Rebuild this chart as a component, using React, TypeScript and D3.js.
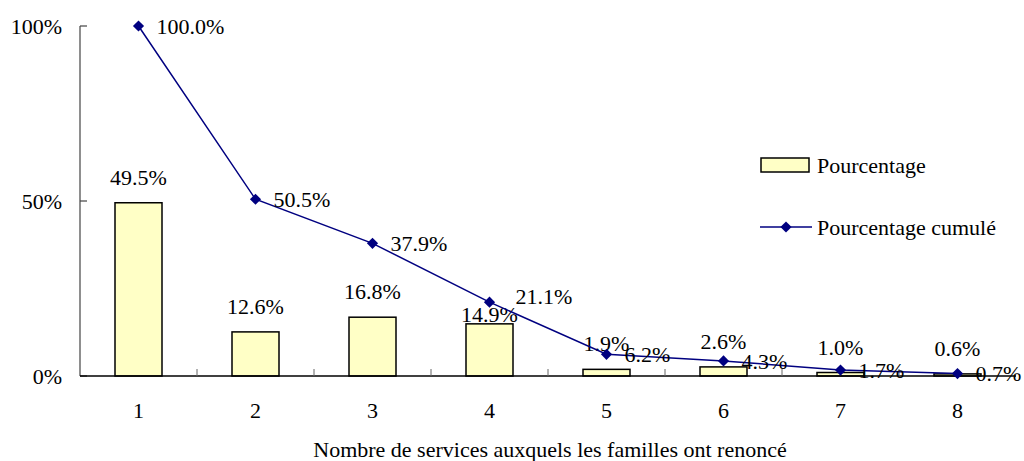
import { useRef, useEffect } from 'react';
import * as d3 from 'd3';

const categories = ['1', '2', '3', '4', '5', '6', '7', '8'];
const pourcentage = [49.5, 12.6, 16.8, 14.9, 1.9, 2.6, 1.0, 0.6];
const cumule = [100.0, 50.5, 37.9, 21.1, 6.2, 4.3, 1.7, 0.7];
const yTicks = [0, 50, 100];

export default function App() {
  const svgRef = useRef<SVGSVGElement>(null);

  useEffect(() => {
    if (!svgRef.current) return;
    const svg = d3.select(svgRef.current);
    svg.selectAll('*').remove();

    const font = '"Liberation Serif", "Times New Roman", serif';
    const fs = 22;
    const left = 80;
    const right = 1016;
    const top = 26;
    const bottom = 376;

    const x = d3.scaleBand<string>().domain(categories).range([left, right]).padding(0);
    const y = d3.scaleLinear().domain([0, 100]).range([bottom, top]);
    const barW = 47;
    const cx = (c: string) => (x(c) ?? 0) + x.bandwidth() / 2;

    // Y axis
    svg.append('line')
      .attr('x1', left).attr('x2', left).attr('y1', top).attr('y2', bottom)
      .attr('stroke', '#444').attr('stroke-width', 1.2);
    yTicks.forEach((t) => {
      svg.append('line')
        .attr('x1', left).attr('x2', left + 7).attr('y1', y(t)).attr('y2', y(t))
        .attr('stroke', '#444').attr('stroke-width', 1.2);
      svg.append('text')
        .attr('x', 62).attr('y', y(t)).attr('dy', '0.35em')
        .attr('text-anchor', 'end')
        .attr('font-family', font).attr('font-size', fs)
        .text(`${t}%`);
    });

    // Bars
    svg.selectAll('rect.bar')
      .data(pourcentage)
      .enter().append('rect')
      .attr('class', 'bar')
      .attr('x', (_, i) => cx(categories[i]) - barW / 2)
      .attr('y', (d) => y(d))
      .attr('width', barW)
      .attr('height', (d) => bottom - y(d))
      .attr('fill', '#FFFFC6')
      .attr('stroke', '#000')
      .attr('stroke-width', 1.5);

    // X axis
    svg.append('line')
      .attr('x1', left).attr('x2', right).attr('y1', bottom).attr('y2', bottom)
      .attr('stroke', '#000').attr('stroke-width', 1.5);
    categories.forEach((c, i) => {
      if (i > 0) {
        svg.append('line')
          .attr('x1', x(c)!).attr('x2', x(c)!).attr('y1', bottom).attr('y2', bottom - 7)
          .attr('stroke', '#666').attr('stroke-width', 1);
      }
      svg.append('text')
        .attr('x', cx(c)).attr('y', 410).attr('dy', '0.35em')
        .attr('text-anchor', 'middle')
        .attr('font-family', font).attr('font-size', fs)
        .text(c);
    });

    svg.append('text')
      .attr('x', 550).attr('y', 449).attr('dy', '0.35em')
      .attr('text-anchor', 'middle')
      .attr('font-family', font).attr('font-size', fs)
      .text('Nombre de services auxquels les familles ont renoncé');

    // Bar labels (the 4th one sits closer to its bar, as in the original)
    pourcentage.forEach((v, i) => {
      const gap = i === 3 ? 2 : 18;
      svg.append('text')
        .attr('x', cx(categories[i])).attr('y', y(v) - gap)
        .attr('text-anchor', 'middle')
        .attr('font-family', font).attr('font-size', fs)
        .text(`${v.toFixed(1)}%`);
    });

    // Cumulative line
    const line = d3.line<number>()
      .x((_, i) => cx(categories[i]))
      .y((d) => y(d));
    svg.append('path')
      .datum(cumule)
      .attr('d', line)
      .attr('fill', 'none')
      .attr('stroke', '#000080')
      .attr('stroke-width', 1.5);

    const diamond = d3.symbol().type(d3.symbolDiamond2).size(80);
    cumule.forEach((v, i) => {
      svg.append('path')
        .attr('d', diamond()!)
        .attr('transform', `translate(${cx(categories[i])},${y(v)})`)
        .attr('fill', '#000080');
      const nudgeX = i === 3 ? 8 : 0;
      const nudgeY = i === 3 ? -6 : 0;
      svg.append('text')
        .attr('x', cx(categories[i]) + 18 + nudgeX).attr('y', y(v) + nudgeY).attr('dy', '0.35em')
        .attr('font-family', font).attr('font-size', fs)
        .text(`${v.toFixed(1)}%`);
    });

    // Legend
    svg.append('rect')
      .attr('x', 761).attr('y', 158).attr('width', 48).attr('height', 14)
      .attr('fill', '#FFFFC6').attr('stroke', '#000').attr('stroke-width', 1.5);
    svg.append('text')
      .attr('x', 817).attr('y', 165).attr('dy', '0.35em')
      .attr('font-family', font).attr('font-size', fs)
      .text('Pourcentage');
    svg.append('line')
      .attr('x1', 760).attr('x2', 812).attr('y1', 227).attr('y2', 227)
      .attr('stroke', '#000080').attr('stroke-width', 1.5);
    svg.append('path')
      .attr('d', diamond()!)
      .attr('transform', 'translate(786,227)')
      .attr('fill', '#000080');
    svg.append('text')
      .attr('x', 817).attr('y', 227).attr('dy', '0.35em')
      .attr('font-family', font).attr('font-size', fs)
      .text('Pourcentage cumulé');
  }, []);

  return (
    <svg
      ref={svgRef}
      width={1024}
      height={461}
      viewBox="0 0 1024 461"
      style={{ position: 'absolute', left: 0, top: 0, background: '#fff' }}
    />
  );
}
